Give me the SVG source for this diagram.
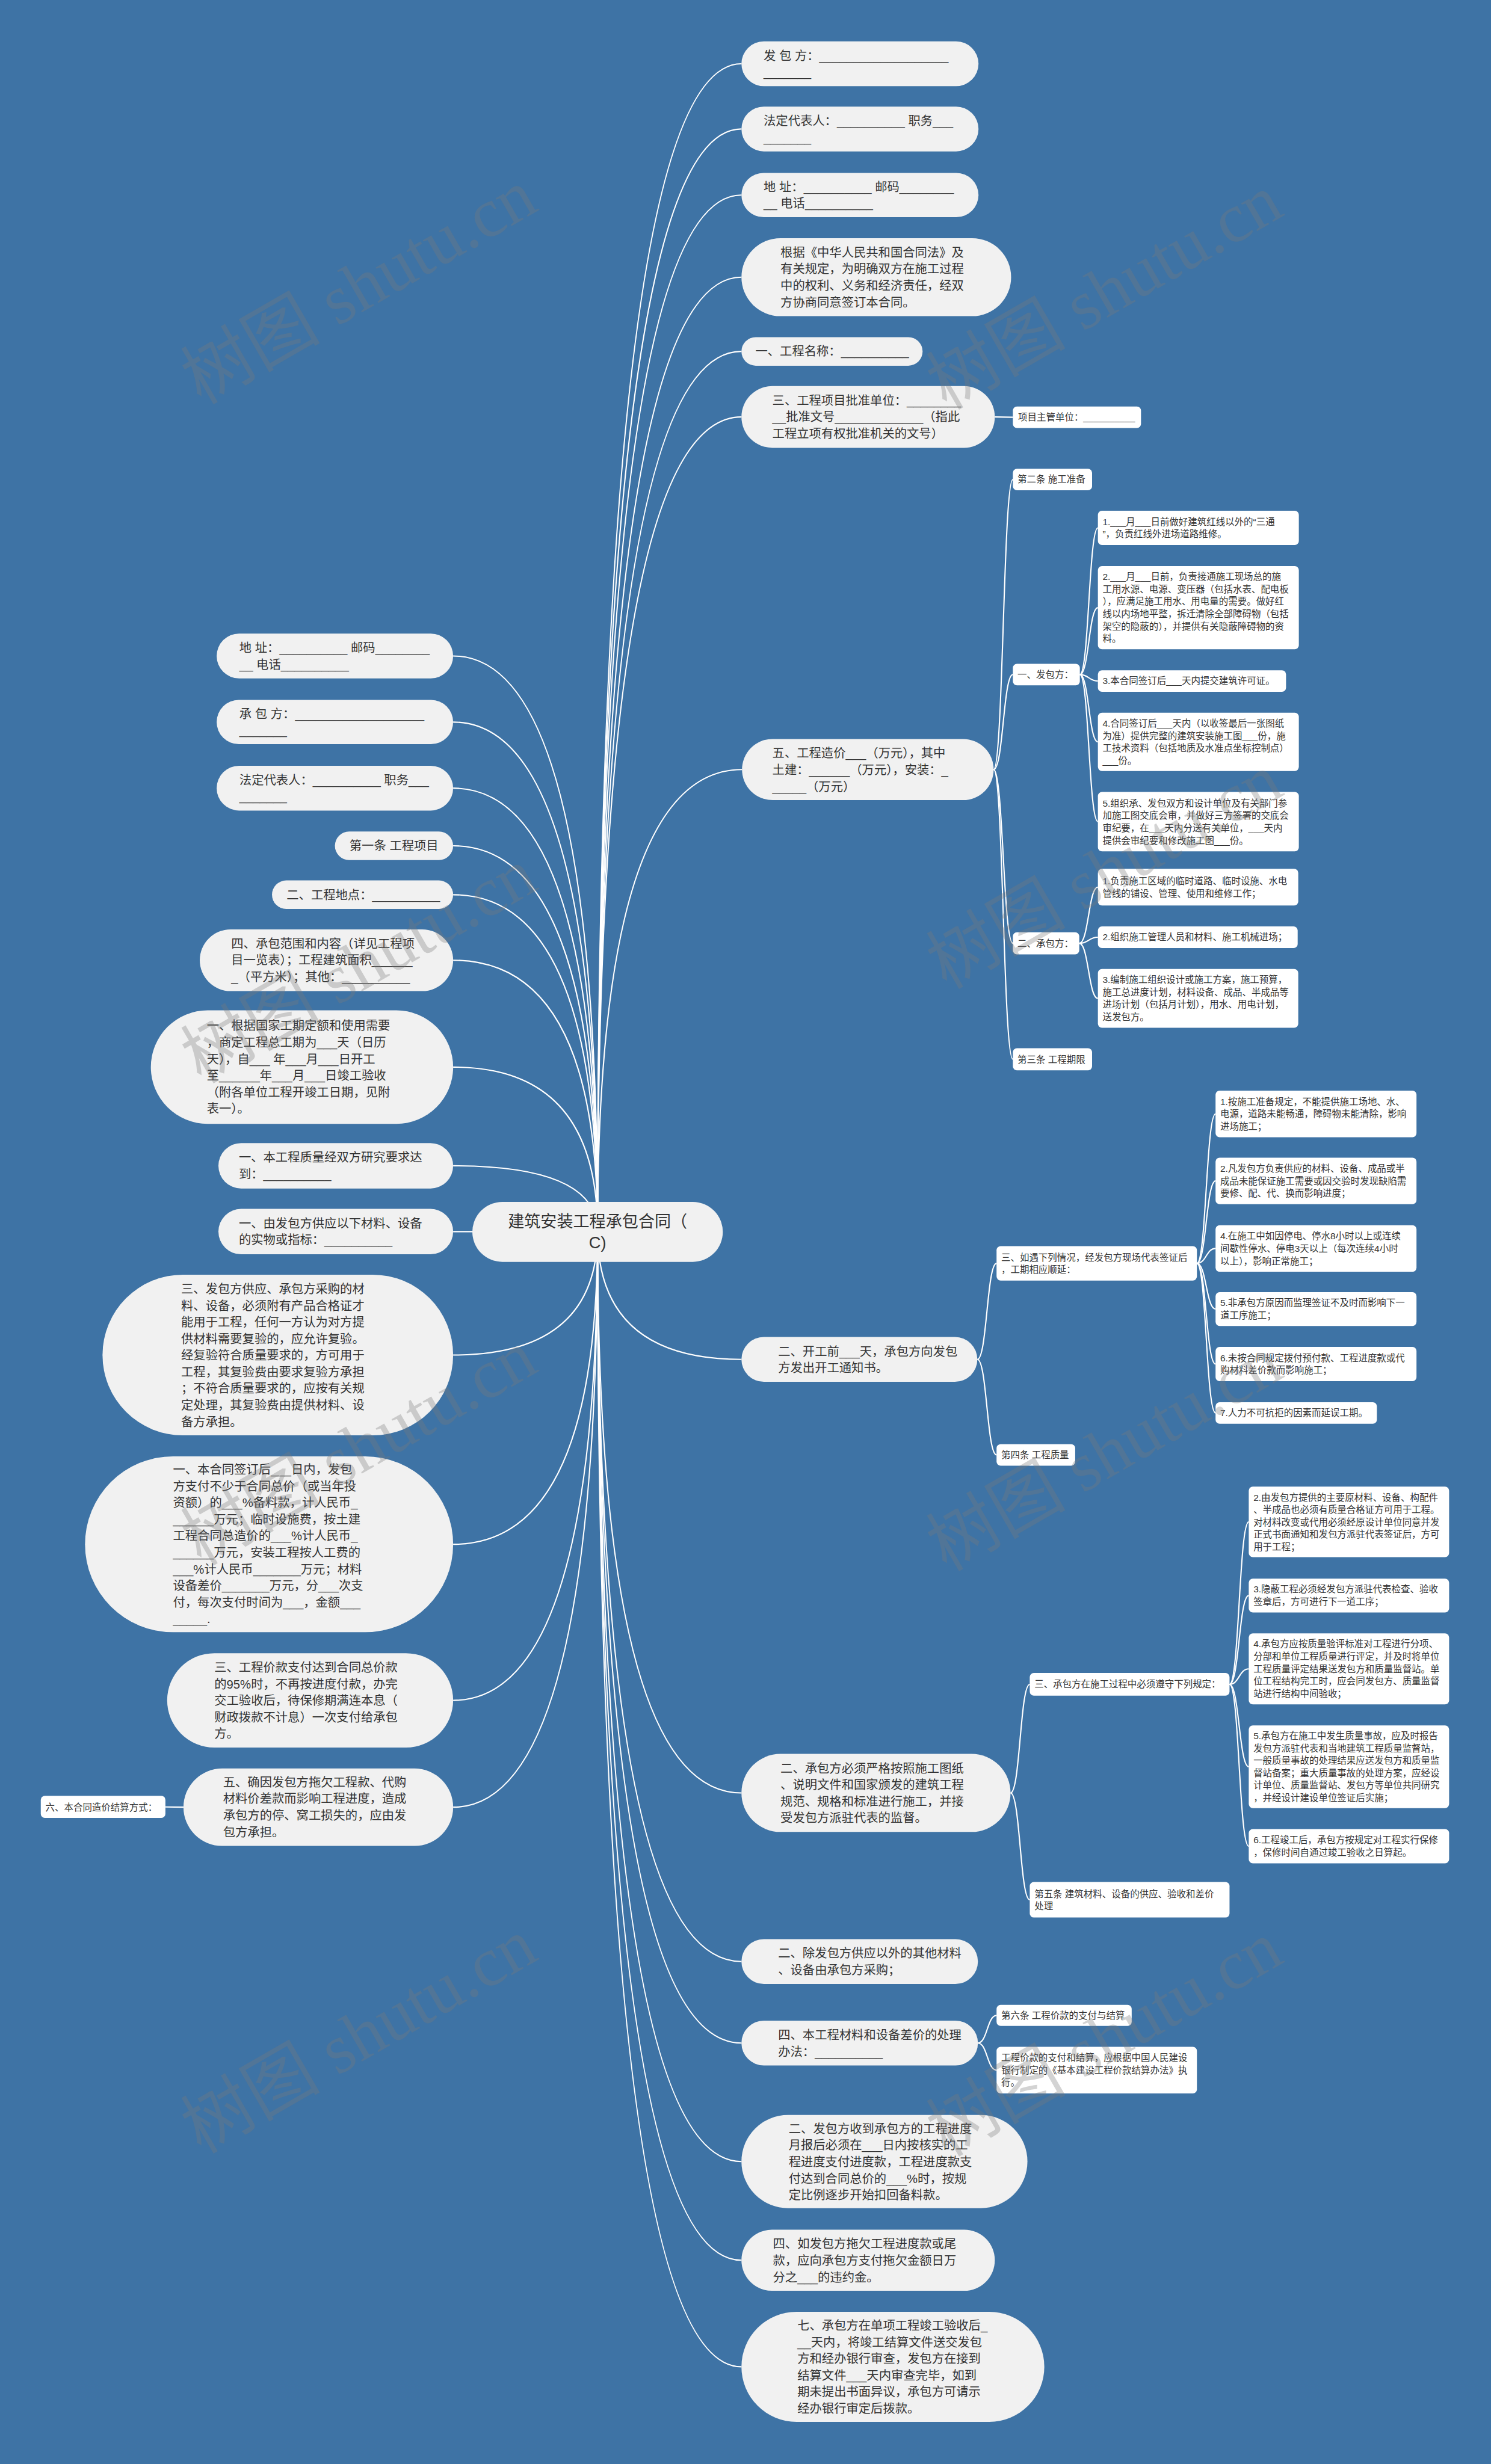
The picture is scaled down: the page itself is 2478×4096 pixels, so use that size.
<svg xmlns="http://www.w3.org/2000/svg" width="2478" height="4096" viewBox="0 0 2478 4096">
<style>
.m{fill:#f1f1f1}
.s{fill:#ffffff}
.t{font-family:'Liberation Sans','Noto Sans CJK SC',sans-serif;font-size:21px;fill:#333333}
.ts{font-family:'Liberation Sans','Noto Sans CJK SC',sans-serif;font-size:16px;fill:#333333}
.tr{font-family:'Liberation Sans','Noto Sans CJK SC',sans-serif;font-size:28px;fill:#333333;text-anchor:middle}
.c path{fill:none;stroke:#ffffff;stroke-width:2.2}
.wm text{font-family:'Liberation Serif','Noto Sans CJK SC',serif;font-size:120px;fill:#7a7a7a;opacity:0.32}
</style>
<rect x="0" y="0" width="2478" height="4096" fill="#3e73a5"/>
<g transform="scale(0.968)">
<g id="connectors" class="c">
<path d="M1026 2115 Q1026 109.5 1273 109.5"/>
<path d="M1026 2115 Q1026 221.5 1273 221.5"/>
<path d="M1026 2115 Q1026 335 1273 335"/>
<path d="M1026 2115 Q1026 476 1273 476"/>
<path d="M1026 2115 Q1026 603.5 1273 603.5"/>
<path d="M1026 2115 Q1026 716 1273 716"/>
<path d="M1026 2115 Q1026 1321.5 1274 1321.5"/>
<path d="M1026 2115 Q1026 2334.5 1273 2334.5"/>
<path d="M1026 2115 Q1026 3079 1273 3079"/>
<path d="M1026 2115 Q1026 3368.5 1273 3368.5"/>
<path d="M1026 2115 Q1026 3508.5 1273 3508.5"/>
<path d="M1026 2115 Q1026 3712 1273 3712"/>
<path d="M1026 2115 Q1026 3881.5 1273 3881.5"/>
<path d="M1026 2115 Q1026 4064.5 1273 4064.5"/>
<path d="M1026 2115 Q1026 1126.5 778 1126.5"/>
<path d="M1026 2115 Q1026 1240 778 1240"/>
<path d="M1026 2115 Q1026 1353.5 778 1353.5"/>
<path d="M1026 2115 Q1026 1452.5 778 1452.5"/>
<path d="M1026 2115 Q1026 1536.5 778 1536.5"/>
<path d="M1026 2115 Q1026 1649 778 1649"/>
<path d="M1026 2115 Q1026 1832.5 778 1832.5"/>
<path d="M1026 2115 Q1026 2002 778 2002"/>
<path d="M1026 2115 L778 2115"/>
<path d="M1026 2115 Q1026 2327 778 2327"/>
<path d="M1026 2115 Q1026 2652 778 2652"/>
<path d="M1026 2115 Q1026 2920 778 2920"/>
<path d="M1026 2115 Q1026 3103.5 778 3103.5"/>
<path d="M1708 716 L1739 716.5"/>
<path d="M1706 1321.5 C1722.5 1321.5 1722.5 823.5 1739 823.5"/>
<path d="M1706 1321.5 C1722.5 1321.5 1722.5 1158.5 1739 1158.5"/>
<path d="M1706 1321.5 C1722.5 1321.5 1722.5 1620 1739 1620"/>
<path d="M1706 1321.5 C1722.5 1321.5 1722.5 1819 1739 1819"/>
<path d="M1854 1158.5 C1869.5 1158.5 1869.5 906.5 1885 906.5"/>
<path d="M1854 1158.5 C1869.5 1158.5 1869.5 1043.5 1885 1043.5"/>
<path d="M1854 1158.5 C1869.5 1158.5 1869.5 1169.5 1885 1169.5"/>
<path d="M1854 1158.5 C1869.5 1158.5 1869.5 1274 1885 1274"/>
<path d="M1854 1158.5 C1869.5 1158.5 1869.5 1411 1885 1411"/>
<path d="M1853 1620 C1869 1620 1869 1523.5 1885 1523.5"/>
<path d="M1853 1620 C1869 1620 1869 1609.5 1885 1609.5"/>
<path d="M1853 1620 C1869 1620 1869 1714.5 1885 1714.5"/>
<path d="M1678 2334.5 C1694.5 2334.5 1694.5 2169.5 1711 2169.5"/>
<path d="M1678 2334.5 C1694.5 2334.5 1694.5 2498.5 1711 2498.5"/>
<path d="M2055 2169.5 C2071 2169.5 2071 1913 2087 1913"/>
<path d="M2055 2169.5 C2071 2169.5 2071 2028 2087 2028"/>
<path d="M2055 2169.5 C2071 2169.5 2071 2144 2087 2144"/>
<path d="M2055 2169.5 C2071 2169.5 2071 2248 2087 2248"/>
<path d="M2055 2169.5 C2071 2169.5 2071 2342.5 2087 2342.5"/>
<path d="M2055 2169.5 C2071 2169.5 2071 2426.5 2087 2426.5"/>
<path d="M1735 3079 C1751.5 3079 1751.5 2892.5 1768 2892.5"/>
<path d="M1735 3079 C1751.5 3079 1751.5 3262.5 1768 3262.5"/>
<path d="M2111 2892.5 C2127.5 2892.5 2127.5 2613.5 2144 2613.5"/>
<path d="M2111 2892.5 C2127.5 2892.5 2127.5 2740 2144 2740"/>
<path d="M2111 2892.5 C2127.5 2892.5 2127.5 2866 2144 2866"/>
<path d="M2111 2892.5 C2127.5 2892.5 2127.5 3034 2144 3034"/>
<path d="M2111 2892.5 C2127.5 2892.5 2127.5 3170.5 2144 3170.5"/>
<path d="M1679 3508.5 C1695 3508.5 1695 3461 1711 3461"/>
<path d="M1679 3508.5 C1695 3508.5 1695 3555 1711 3555"/>
<path d="M315 3103.5 L284 3103"/>
</g>

<g id="root"><rect class="m" x="811" y="2064" width="430" height="103" rx="51.5"/>
<text class="tr" x="1026" y="2107"><tspan x="1026">建筑安装工程承包合同（</tspan><tspan x="1026" dy="37">C)</tspan></text></g>

<g id="r1"><rect class="m" x="1273" y="71" width="407" height="77" rx="38.5"/>
<text class="t" y="103"><tspan x="1311">发 包 方：___________________</tspan><tspan x="1311" dy="28.5">_______</tspan></text></g>
<g id="r2"><rect class="m" x="1273" y="183" width="407" height="77" rx="38.5"/>
<text class="t" y="215"><tspan x="1311">法定代表人：__________ 职务___</tspan><tspan x="1311" dy="28.5">_______</tspan></text></g>
<g id="r3"><rect class="m" x="1273" y="297" width="407" height="76" rx="38"/>
<text class="t" y="328"><tspan x="1311">地 址：__________ 邮码________</tspan><tspan x="1311" dy="28.5">__ 电话__________</tspan></text></g>
<g id="r4"><rect class="m" x="1273" y="409" width="463" height="134" rx="67"/>
<text class="t" y="441"><tspan x="1340">根据《中华人民共和国合同法》及</tspan><tspan x="1340" dy="28.5">有关规定，为明确双方在施工过程</tspan><tspan x="1340" dy="28.5">中的权利、义务和经济责任，经双</tspan><tspan x="1340" dy="28.5">方协商同意签订本合同。</tspan></text></g>
<g id="r5"><rect class="m" x="1273" y="579" width="311" height="49" rx="24.5"/>
<text class="t" x="1297" y="611">一、工程名称：__________</text></g>
<g id="r6"><rect class="m" x="1273" y="663" width="435" height="106" rx="53"/>
<text class="t" y="695"><tspan x="1326">三、工程项目批准单位：________</tspan><tspan x="1326" dy="28.5">__批准文号_____________（指此</tspan><tspan x="1326" dy="28.5">工程立项有权批准机关的文号）</tspan></text></g>
<g id="r7"><rect class="m" x="1274" y="1269" width="432" height="105" rx="52.5"/>
<text class="t" y="1301"><tspan x="1326">五、工程造价___（万元），其中</tspan><tspan x="1326" dy="28.5">土建：______（万元），安装：_</tspan><tspan x="1326" dy="28.5">_____（万元）</tspan></text></g>
<g id="r8"><rect class="m" x="1273" y="2296" width="405" height="77" rx="38.5"/>
<text class="t" y="2328"><tspan x="1336">二、开工前___天，承包方向发包</tspan><tspan x="1336" dy="28.5">方发出开工通知书。</tspan></text></g>
<g id="r9"><rect class="m" x="1273" y="3012" width="462" height="134" rx="67"/>
<text class="t" y="3044"><tspan x="1340">二、承包方必须严格按照施工图纸</tspan><tspan x="1340" dy="28.5">、说明文件和国家颁发的建筑工程</tspan><tspan x="1340" dy="28.5">规范、规格和标准进行施工，并接</tspan><tspan x="1340" dy="28.5">受发包方派驻代表的监督。</tspan></text></g>
<g id="r10"><rect class="m" x="1273" y="3330" width="406" height="77" rx="38.5"/>
<text class="t" y="3362"><tspan x="1336">二、除发包方供应以外的其他材料</tspan><tspan x="1336" dy="28.5">、设备由承包方采购；</tspan></text></g>
<g id="r11"><rect class="m" x="1273" y="3470" width="406" height="77" rx="38.5"/>
<text class="t" y="3502"><tspan x="1336">四、本工程材料和设备差价的处理</tspan><tspan x="1336" dy="28.5">办法：__________</tspan></text></g>
<g id="r12"><rect class="m" x="1273" y="3632" width="491" height="160" rx="80"/>
<text class="t" y="3663"><tspan x="1354">二、发包方收到承包方的工程进度</tspan><tspan x="1354" dy="28.5">月报后必须在___日内按核实的工</tspan><tspan x="1354" dy="28.5">程进度支付进度款，工程进度款支</tspan><tspan x="1354" dy="28.5">付达到合同总价的___%时，按规</tspan><tspan x="1354" dy="28.5">定比例逐步开始扣回备料款。</tspan></text></g>
<g id="r13"><rect class="m" x="1273" y="3829" width="435" height="105" rx="52.5"/>
<text class="t" y="3861"><tspan x="1327">四、如发包方拖欠工程进度款或尾</tspan><tspan x="1327" dy="28.5">款，应向承包方支付拖欠金额日万</tspan><tspan x="1327" dy="28.5">分之___的违约金。</tspan></text></g>
<g id="r14"><rect class="m" x="1273" y="3970" width="520" height="189" rx="94.5"/>
<text class="t" y="4001"><tspan x="1369">七、承包方在单项工程竣工验收后_</tspan><tspan x="1369" dy="28.5">__天内，将竣工结算文件送交发包</tspan><tspan x="1369" dy="28.5">方和经办银行审查，发包方在接到</tspan><tspan x="1369" dy="28.5">结算文件___天内审查完毕，如到</tspan><tspan x="1369" dy="28.5">期未提出书面异议，承包方可请示</tspan><tspan x="1369" dy="28.5">经办银行审定后拨款。</tspan></text></g>

<g id="l1"><rect class="m" x="372" y="1088" width="406" height="77" rx="38.5"/>
<text class="t" y="1120"><tspan x="411">地 址：__________ 邮码________</tspan><tspan x="411" dy="28.5">__ 电话__________</tspan></text></g>
<g id="l2"><rect class="m" x="372" y="1202" width="406" height="76" rx="38"/>
<text class="t" y="1233"><tspan x="411">承 包 方：___________________</tspan><tspan x="411" dy="28.5">_______</tspan></text></g>
<g id="l3"><rect class="m" x="372" y="1315" width="406" height="77" rx="38.5"/>
<text class="t" y="1347"><tspan x="411">法定代表人：__________ 职务___</tspan><tspan x="411" dy="28.5">_______</tspan></text></g>
<g id="l4"><rect class="m" x="575" y="1428" width="203" height="49" rx="24.5"/>
<text class="t" x="600" y="1460">第一条 工程项目</text></g>
<g id="l5"><rect class="m" x="467" y="1512" width="311" height="49" rx="24.5"/>
<text class="t" x="492" y="1544">二、工程地点：__________</text></g>
<g id="l6"><rect class="m" x="343" y="1596" width="435" height="106" rx="53"/>
<text class="t" y="1628"><tspan x="397">四、承包范围和内容（详见工程项</tspan><tspan x="397" dy="28.5">目一览表）；工程建筑面积______</tspan><tspan x="397" dy="28.5">_（平方米）；其他：__________</tspan></text></g>
<g id="l7"><rect class="m" x="259" y="1735" width="519" height="195" rx="97.5"/>
<text class="t" y="1769"><tspan x="355">一、根据国家工期定额和使用需要</tspan><tspan x="355" dy="28.5">，商定工程总工期为___天（日历</tspan><tspan x="355" dy="28.5">天），自___ 年___月___日开工</tspan><tspan x="355" dy="28.5">至______年___月___日竣工验收</tspan><tspan x="355" dy="28.5">（附各单位工程开竣工日期，见附</tspan><tspan x="355" dy="28.5">表一）。</tspan></text></g>
<g id="l8"><rect class="m" x="375" y="1963" width="403" height="78" rx="39"/>
<text class="t" y="1995"><tspan x="410">一、本工程质量经双方研究要求达</tspan><tspan x="410" dy="28.5">到：__________</tspan></text></g>
<g id="l9"><rect class="m" x="375" y="2076" width="403" height="78" rx="39"/>
<text class="t" y="2108"><tspan x="410">一、由发包方供应以下材料、设备</tspan><tspan x="410" dy="28.5">的实物或指标：__________</tspan></text></g>
<g id="l10"><rect class="m" x="176" y="2189" width="602" height="276" rx="138"/>
<text class="t" y="2221"><tspan x="311">三、发包方供应、承包方采购的材</tspan><tspan x="311" dy="28.5">料、设备，必须附有产品合格证才</tspan><tspan x="311" dy="28.5">能用于工程，任何一方认为对方提</tspan><tspan x="311" dy="28.5">供材料需要复验的，应允许复验。</tspan><tspan x="311" dy="28.5">经复验符合质量要求的，方可用于</tspan><tspan x="311" dy="28.5">工程，其复验费由要求复验方承担</tspan><tspan x="311" dy="28.5">；不符合质量要求的，应按有关规</tspan><tspan x="311" dy="28.5">定处理，其复验费由提供材料、设</tspan><tspan x="311" dy="28.5">备方承担。</tspan></text></g>
<g id="l11"><rect class="m" x="146" y="2501" width="632" height="302" rx="151"/>
<text class="t" y="2531"><tspan x="297">一、本合同签订后___日内，发包</tspan><tspan x="297" dy="28.5">方支付不少于合同总价（或当年投</tspan><tspan x="297" dy="28.5">资额）的___%备料款，计人民币_</tspan><tspan x="297" dy="28.5">______万元；临时设施费，按土建</tspan><tspan x="297" dy="28.5">工程合同总造价的___%计人民币_</tspan><tspan x="297" dy="28.5">______万元，安装工程按人工费的</tspan><tspan x="297" dy="28.5">___%计人民币_______万元；材料</tspan><tspan x="297" dy="28.5">设备差价_______万元，分___次支</tspan><tspan x="297" dy="28.5">付，每次支付时间为___，金额___</tspan><tspan x="297" dy="28.5">_____.</tspan></text></g>
<g id="l12"><rect class="m" x="287" y="2839" width="491" height="162" rx="81"/>
<text class="t" y="2871"><tspan x="368">三、工程价款支付达到合同总价款</tspan><tspan x="368" dy="28.5">的95%时，不再按进度付款，办完</tspan><tspan x="368" dy="28.5">交工验收后，待保修期满连本息（</tspan><tspan x="368" dy="28.5">财政拨款不计息）一次支付给承包</tspan><tspan x="368" dy="28.5">方。</tspan></text></g>
<g id="l13"><rect class="m" x="315" y="3037" width="463" height="133" rx="66.5"/>
<text class="t" y="3068"><tspan x="383">五、确因发包方拖欠工程款、代购</tspan><tspan x="383" dy="28.5">材料价差款而影响工程进度，造成</tspan><tspan x="383" dy="28.5">承包方的停、窝工损失的，应由发</tspan><tspan x="383" dy="28.5">包方承担。</tspan></text></g>

<g id="s-xmzg"><rect class="s" x="1739" y="698" width="220" height="37" rx="7"/>
<text class="ts" x="1748" y="722">项目主管单位：__________</text></g>
<g id="s-d2"><rect class="s" x="1739" y="805" width="136" height="37" rx="7"/>
<text class="ts" x="1747" y="829">第二条 施工准备</text></g>
<g id="s-fbf"><rect class="s" x="1739" y="1140" width="115" height="37" rx="7"/>
<text class="ts" x="1747" y="1164">一、发包方：</text></g>
<g id="s-cbf"><rect class="s" x="1739" y="1601" width="114" height="38" rx="7"/>
<text class="ts" x="1747" y="1626">二、承包方：</text></g>
<g id="s-d3"><rect class="s" x="1739" y="1800" width="136" height="38" rx="7"/>
<text class="ts" x="1747" y="1825">第三条 工程期限</text></g>

<g id="f1"><rect class="s" x="1885" y="877" width="345" height="59" rx="7"/>
<text class="ts" y="901.7"><tspan x="1893">1.___月___日前做好建筑红线以外的“三通</tspan><tspan x="1893" dy="21.3">”，负责红线外进场道路维修。</tspan></text></g>
<g id="f2"><rect class="s" x="1885" y="972" width="345" height="143" rx="7"/>
<text class="ts" y="996"><tspan x="1893">2.___月___日前，负责接通施工现场总的施</tspan><tspan x="1893" dy="21.3">工用水源、电源、变压器（包括水表、配电板</tspan><tspan x="1893" dy="21.3">），应满足施工用水、用电量的需要。做好红</tspan><tspan x="1893" dy="21.3">线以内场地平整，拆迁清除全部障碍物（包括</tspan><tspan x="1893" dy="21.3">架空的隐蔽的），并提供有关隐蔽障碍物的资</tspan><tspan x="1893" dy="21.3">料。</tspan></text></g>
<g id="f3"><rect class="s" x="1885" y="1151" width="323" height="37" rx="7"/>
<text class="ts" x="1893" y="1175">3.本合同签订后___天内提交建筑许可证。</text></g>
<g id="f4"><rect class="s" x="1885" y="1224" width="345" height="100" rx="7"/>
<text class="ts" y="1248"><tspan x="1893">4.合同签订后___天内（以收签最后一张图纸</tspan><tspan x="1893" dy="21.3">为准）提供完整的建筑安装施工图___份，施</tspan><tspan x="1893" dy="21.3">工技术资料（包括地质及水准点坐标控制点）</tspan><tspan x="1893" dy="21.3">___份。</tspan></text></g>
<g id="f5"><rect class="s" x="1885" y="1360" width="345" height="102" rx="7"/>
<text class="ts" y="1385"><tspan x="1893">5.组织承、发包双方和设计单位及有关部门参</tspan><tspan x="1893" dy="21.3">加施工图交底会审，并做好三方签署的交底会</tspan><tspan x="1893" dy="21.3">审纪要，在___天内分送有关单位，___天内</tspan><tspan x="1893" dy="21.3">提供会审纪要和修改施工图___份。</tspan></text></g>
<g id="c1"><rect class="s" x="1885" y="1492" width="344" height="63" rx="7"/>
<text class="ts" y="1519"><tspan x="1893">1.负责施工区域的临时道路、临时设施、水电</tspan><tspan x="1893" dy="21.3">管线的铺设、管理、使用和维修工作；</tspan></text></g>
<g id="c2"><rect class="s" x="1885" y="1591" width="343" height="37" rx="7"/>
<text class="ts" x="1893" y="1615">2.组织施工管理人员和材料、施工机械进场；</text></g>
<g id="c3"><rect class="s" x="1885" y="1664" width="344" height="101" rx="7"/>
<text class="ts" y="1688"><tspan x="1893">3.编制施工组织设计或施工方案，施工预算，</tspan><tspan x="1893" dy="21.3">施工总进度计划，材料设备、成品、半成品等</tspan><tspan x="1893" dy="21.3">进场计划（包括月计划），用水、用电计划，</tspan><tspan x="1893" dy="21.3">送发包方。</tspan></text></g>

<g id="s-ry"><rect class="s" x="1711" y="2140" width="344" height="59" rx="7"/>
<text class="ts" y="2165"><tspan x="1719">三、如遇下列情况，经发包方现场代表签证后</tspan><tspan x="1719" dy="21.3">，工期相应顺延：</tspan></text></g>
<g id="s-d4"><rect class="s" x="1711" y="2480" width="135" height="37" rx="7"/>
<text class="ts" x="1719" y="2504">第四条 工程质量</text></g>
<g id="q1"><rect class="s" x="2087" y="1873" width="345" height="80" rx="7"/>
<text class="ts" y="1897.5"><tspan x="2095">1.按施工准备规定，不能提供施工场地、水、</tspan><tspan x="2095" dy="21.3">电源，道路未能畅通，障碍物未能清除，影响</tspan><tspan x="2095" dy="21.3">进场施工；</tspan></text></g>
<g id="q2"><rect class="s" x="2087" y="1988" width="345" height="80" rx="7"/>
<text class="ts" y="2012.5"><tspan x="2095">2.凡发包方负责供应的材料、设备、成品或半</tspan><tspan x="2095" dy="21.3">成品未能保证施工需要或因交验时发现缺陷需</tspan><tspan x="2095" dy="21.3">要修、配、代、换而影响进度；</tspan></text></g>
<g id="q4"><rect class="s" x="2087" y="2104" width="345" height="80" rx="7"/>
<text class="ts" y="2128.5"><tspan x="2095">4.在施工中如因停电、停水8小时以上或连续</tspan><tspan x="2095" dy="21.3">间歇性停水、停电3天以上（每次连续4小时</tspan><tspan x="2095" dy="21.3">以上），影响正常施工；</tspan></text></g>
<g id="q5"><rect class="s" x="2087" y="2219" width="345" height="58" rx="7"/>
<text class="ts" y="2243"><tspan x="2095">5.非承包方原因而监理签证不及时而影响下一</tspan><tspan x="2095" dy="21.3">道工序施工；</tspan></text></g>
<g id="q6"><rect class="s" x="2087" y="2313" width="345" height="59" rx="7"/>
<text class="ts" y="2337.6"><tspan x="2095">6.未按合同规定拨付预付款、工程进度款或代</tspan><tspan x="2095" dy="21.3">购材料差价款而影响施工；</tspan></text></g>
<g id="q7"><rect class="s" x="2087" y="2408" width="277" height="37" rx="7"/>
<text class="ts" x="2095" y="2432">7.人力不可抗拒的因素而延误工期。</text></g>

<g id="s-zs"><rect class="s" x="1768" y="2873" width="343" height="39" rx="7"/>
<text class="ts" x="1776" y="2898">三、承包方在施工过程中必须遵守下列规定：</text></g>
<g id="s-d5"><rect class="s" x="1768" y="3232" width="343" height="61" rx="7"/>
<text class="ts" y="3258"><tspan x="1776">第五条 建筑材料、设备的供应、验收和差价</tspan><tspan x="1776" dy="21.3">处理</tspan></text></g>
<g id="w2"><rect class="s" x="2144" y="2553" width="344" height="121" rx="7"/>
<text class="ts" y="2577"><tspan x="2152">2.由发包方提供的主要原材料、设备、构配件</tspan><tspan x="2152" dy="21.3">、半成品也必须有质量合格证方可用于工程。</tspan><tspan x="2152" dy="21.3">对材料改变或代用必须经原设计单位同意并发</tspan><tspan x="2152" dy="21.3">正式书面通知和发包方派驻代表签证后，方可</tspan><tspan x="2152" dy="21.3">用于工程；</tspan></text></g>
<g id="w3"><rect class="s" x="2144" y="2711" width="344" height="58" rx="7"/>
<text class="ts" y="2735"><tspan x="2152">3.隐蔽工程必须经发包方派驻代表检查、验收</tspan><tspan x="2152" dy="21.3">签章后，方可进行下一道工序；</tspan></text></g>
<g id="w4"><rect class="s" x="2144" y="2805" width="344" height="122" rx="7"/>
<text class="ts" y="2829"><tspan x="2152">4.承包方应按质量验评标准对工程进行分项、</tspan><tspan x="2152" dy="21.3">分部和单位工程质量进行评定，并及时将单位</tspan><tspan x="2152" dy="21.3">工程质量评定结果送发包方和质量监督站。单</tspan><tspan x="2152" dy="21.3">位工程结构完工时，应会同发包方、质量监督</tspan><tspan x="2152" dy="21.3">站进行结构中间验收；</tspan></text></g>
<g id="w5"><rect class="s" x="2144" y="2963" width="344" height="142" rx="7"/>
<text class="ts" y="2986.5"><tspan x="2152">5.承包方在施工中发生质量事故，应及时报告</tspan><tspan x="2152" dy="21.3">发包方派驻代表和当地建筑工程质量监督站，</tspan><tspan x="2152" dy="21.3">一般质量事故的处理结果应送发包方和质量监</tspan><tspan x="2152" dy="21.3">督站备案；重大质量事故的处理方案，应经设</tspan><tspan x="2152" dy="21.3">计单位、质量监督站、发包方等单位共同研究</tspan><tspan x="2152" dy="21.3">，并经设计建设单位签证后实施；</tspan></text></g>
<g id="w6"><rect class="s" x="2144" y="3141" width="344" height="59" rx="7"/>
<text class="ts" y="3165.6"><tspan x="2152">6.工程竣工后，承包方按规定对工程实行保修</tspan><tspan x="2152" dy="21.3">，保修时间自通过竣工验收之日算起。</tspan></text></g>

<g id="s-d6"><rect class="s" x="1711" y="3443" width="232" height="36" rx="7"/>
<text class="ts" x="1719" y="3467">第六条 工程价款的支付与结算</text></g>
<g id="s-js"><rect class="s" x="1711" y="3515" width="344" height="80" rx="7"/>
<text class="ts" y="3539.5"><tspan x="1719">工程价款的支付和结算，应根据中国人民建设</tspan><tspan x="1719" dy="21.3">银行制定的《基本建设工程价款结算办法》执</tspan><tspan x="1719" dy="21.3">行。</tspan></text></g>
<g id="s-l6"><rect class="s" x="70" y="3084" width="214" height="38" rx="7"/>
<text class="ts" x="78" y="3109">六、本合同造价结算方式：</text></g>

<g class="wm">
<text transform="translate(345 696) rotate(-30)">树图 shutu.cn</text>
<text transform="translate(1625 705) rotate(-30)">树图 shutu.cn</text>
<text transform="translate(345 1862) rotate(-30)">树图 shutu.cn</text>
<text transform="translate(1625 1700) rotate(-30)">树图 shutu.cn</text>
<text transform="translate(345 2690) rotate(-30)">树图 shutu.cn</text>
<text transform="translate(1625 2700) rotate(-30)">树图 shutu.cn</text>
<text transform="translate(345 3700) rotate(-30)">树图 shutu.cn</text>
<text transform="translate(1625 3705) rotate(-30)">树图 shutu.cn</text>
</g>
</g>
</svg>
